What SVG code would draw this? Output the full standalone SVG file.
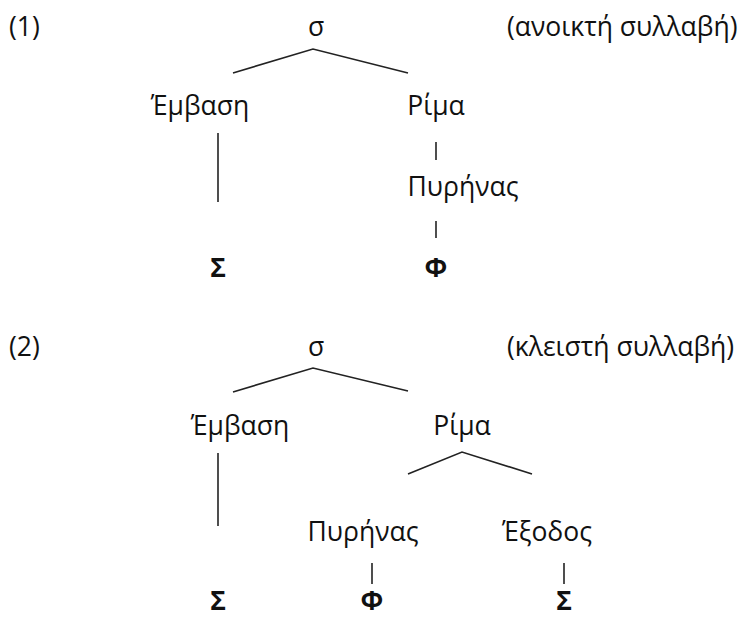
<svg xmlns="http://www.w3.org/2000/svg" width="742" height="618" viewBox="0 0 742 618">
<style>
text{font-family:"Open Sans","Noto Sans",sans-serif;font-size:26.5px;fill:#111;text-anchor:middle}
.b{font-weight:bold}
.l{text-anchor:start}
#connectors line,#connectors polyline{stroke:#222;stroke-width:1.6;fill:none}
</style>
<rect width="742" height="618" fill="#fff"/>
<g id="label1"><text class="l" x="9" y="36">(1)</text></g>
<g id="note1"><text class="l" x="507" y="36">(ανοικτή συλλαβή)</text></g>
<g id="s1"><text x="316" y="36">σ</text></g>
<g id="onset1"><text x="200" y="115">Έμβαση</text></g>
<g id="rhyme1"><text x="436" y="115">Ρίμα</text></g>
<g id="nucleus1"><text x="463" y="196">Πυρήνας</text></g>
<g id="S1"><text class="b" x="218" y="277">Σ</text></g>
<g id="F1"><text class="b" x="436" y="277">Φ</text></g>

<g id="label2"><text class="l" x="9" y="356">(2)</text></g>
<g id="note2"><text class="l" x="507" y="356">(κλειστή συλλαβή)</text></g>
<g id="s2"><text x="316" y="356">σ</text></g>
<g id="onset2"><text x="240" y="435">Έμβαση</text></g>
<g id="rhyme2"><text x="462" y="435">Ρίμα</text></g>
<g id="nucleus2"><text x="363" y="541">Πυρήνας</text></g>
<g id="coda2"><text x="547" y="541">Έξοδος</text></g>
<g id="S2"><text class="b" x="218" y="610">Σ</text></g>
<g id="F2"><text class="b" x="372" y="610">Φ</text></g>
<g id="S3"><text class="b" x="564" y="610">Σ</text></g>

<g id="connectors">
<polyline points="233,73 313,49 408,73"/>
<line x1="218" y1="133" x2="218" y2="202"/>
<line x1="436" y1="142" x2="436" y2="160"/>
<line x1="436" y1="221" x2="436" y2="238"/>
<polyline points="233,392 313,368 408,391"/>
<line x1="218" y1="453" x2="218" y2="526"/>
<polyline points="408,474 462,452 532,474"/>
<line x1="372" y1="563" x2="372" y2="584"/>
<line x1="564" y1="563" x2="564" y2="584"/>
</g>
</svg>
